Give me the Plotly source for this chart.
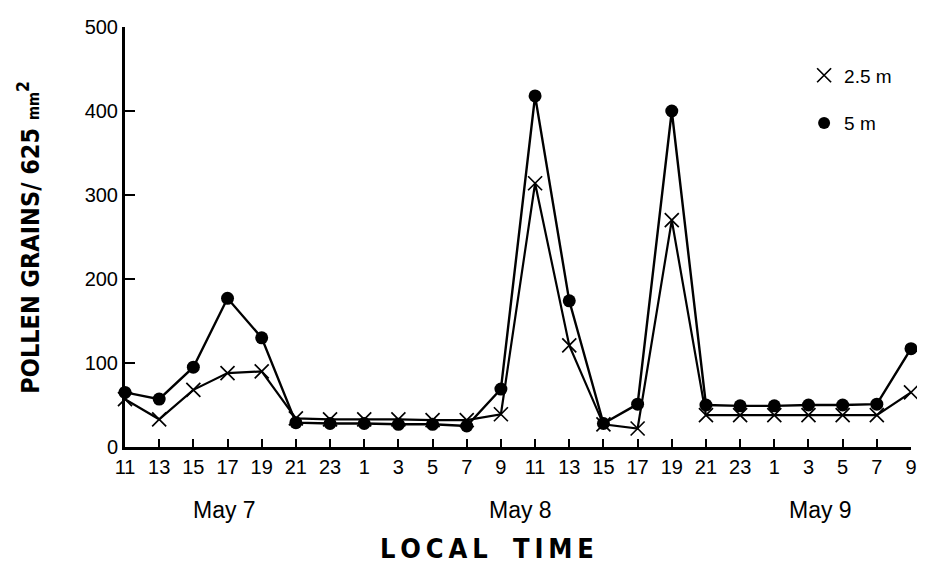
import plotly.graph_objects as go

tick_labels = ["11", "13", "15", "17", "19", "21", "23", "1", "3", "5", "7",
               "9", "11", "13", "15", "17", "19", "21", "23", "1", "3", "5", "7", "9"]
hours = [2 * i for i in range(len(tick_labels))]  # hours since 11:00 May 7

pollen_5m = [65, 57, 95, 177, 130, 29, 28, 28, 27, 27, 25,
             69, 418, 174, 28, 51, 400, 50, 49, 49, 50, 50, 51, 117]
pollen_25m = [57, 33, 68, 88, 90, 34, 33, 33, 33, 32, 32,
              39, 314, 121, 27, 22, 270, 38, 38, 38, 38, 38, 38, 65]

day_labels = ["May 7", "May 8", "May 9"]
day_positions = [5.8, 23.15, 40.7]

FONT = "Liberation Sans, Arial, sans-serif"
BOLD = "'Liberation Sans Narrow', 'DejaVu Sans Condensed', sans-serif"

fig = go.Figure()
fig.add_trace(go.Scatter(x=hours, y=pollen_25m, mode="lines+markers",
                         line=dict(color="black", width=2.2),
                         marker=dict(symbol="x-thin", size=14, line=dict(color="black", width=1.7)),
                         cliponaxis=False, showlegend=False))
fig.add_trace(go.Scatter(x=hours, y=pollen_5m, mode="lines+markers",
                         line=dict(color="black", width=2.4),
                         marker=dict(symbol="circle", size=13, color="black"),
                         cliponaxis=False, showlegend=False))
# legend-only entries (markers without lines)
fig.add_trace(go.Scatter(x=[None], y=[None], mode="markers", name="2.5 m", legendgroup="a",
                         marker=dict(symbol="x-thin", size=14, line=dict(color="black", width=1.7))))
fig.add_trace(go.Scatter(x=[None], y=[None], mode="markers", name="5 m", legendgroup="b",
                         marker=dict(symbol="circle", size=12, color="black")))

for lab, pos in zip(day_labels, day_positions):
    fig.add_annotation(x=pos, y=-0.15, xref="x", yref="paper", text=lab, showarrow=False,
                       font=dict(family=FONT, size=23, color="black"), xanchor="center", yanchor="middle")

sp = "&#8201;"
local = sp.join("LOCAL")
time_ = sp.join("TIME")
fig.add_annotation(x=0.46, y=-0.241, xref="paper", yref="paper",
                   text="<b>" + local + "&nbsp;&nbsp;&nbsp;" + time_ + "</b>", showarrow=False,
                   font=dict(family=BOLD, size=27, color="black"), xanchor="center", yanchor="middle")
fig.add_annotation(x=-0.1225, y=0.5, xref="paper", yref="paper", textangle=-90,
                   text="<b>POLLEN GRAINS/ 625 <span style='font-size:15px'>mm</span><sup>2</sup></b>",
                   showarrow=False, font=dict(family=BOLD, size=25, color="black"),
                   xanchor="center", yanchor="middle")

fig.update_layout(
    width=917, height=562,
    margin=dict(l=117, r=8, t=12, b=123),
    paper_bgcolor="white", plot_bgcolor="white",
    legend=dict(x=0.864, y=0.93, xanchor="left", yanchor="top", tracegroupgap=20,
                font=dict(family=FONT, size=19, color="black"), bgcolor="rgba(0,0,0,0)"),
    xaxis=dict(range=[0, 46], tickmode="array", tickvals=hours, ticktext=tick_labels,
               ticks="inside", ticklen=8, tickwidth=2, tickcolor="black",
               showline=True, linecolor="black", linewidth=3, showgrid=False, zeroline=False,
               tickfont=dict(family=FONT, size=20, color="black")),
    yaxis=dict(range=[0, 500], tickvals=[0, 100, 200, 300, 400, 500],
               ticks="inside", ticklen=10, tickwidth=2, tickcolor="black",
               showline=True, linecolor="black", linewidth=3, showgrid=False, zeroline=False,
               tickfont=dict(family=FONT, size=20, color="black")),
)

fig.write_html("out.html")
